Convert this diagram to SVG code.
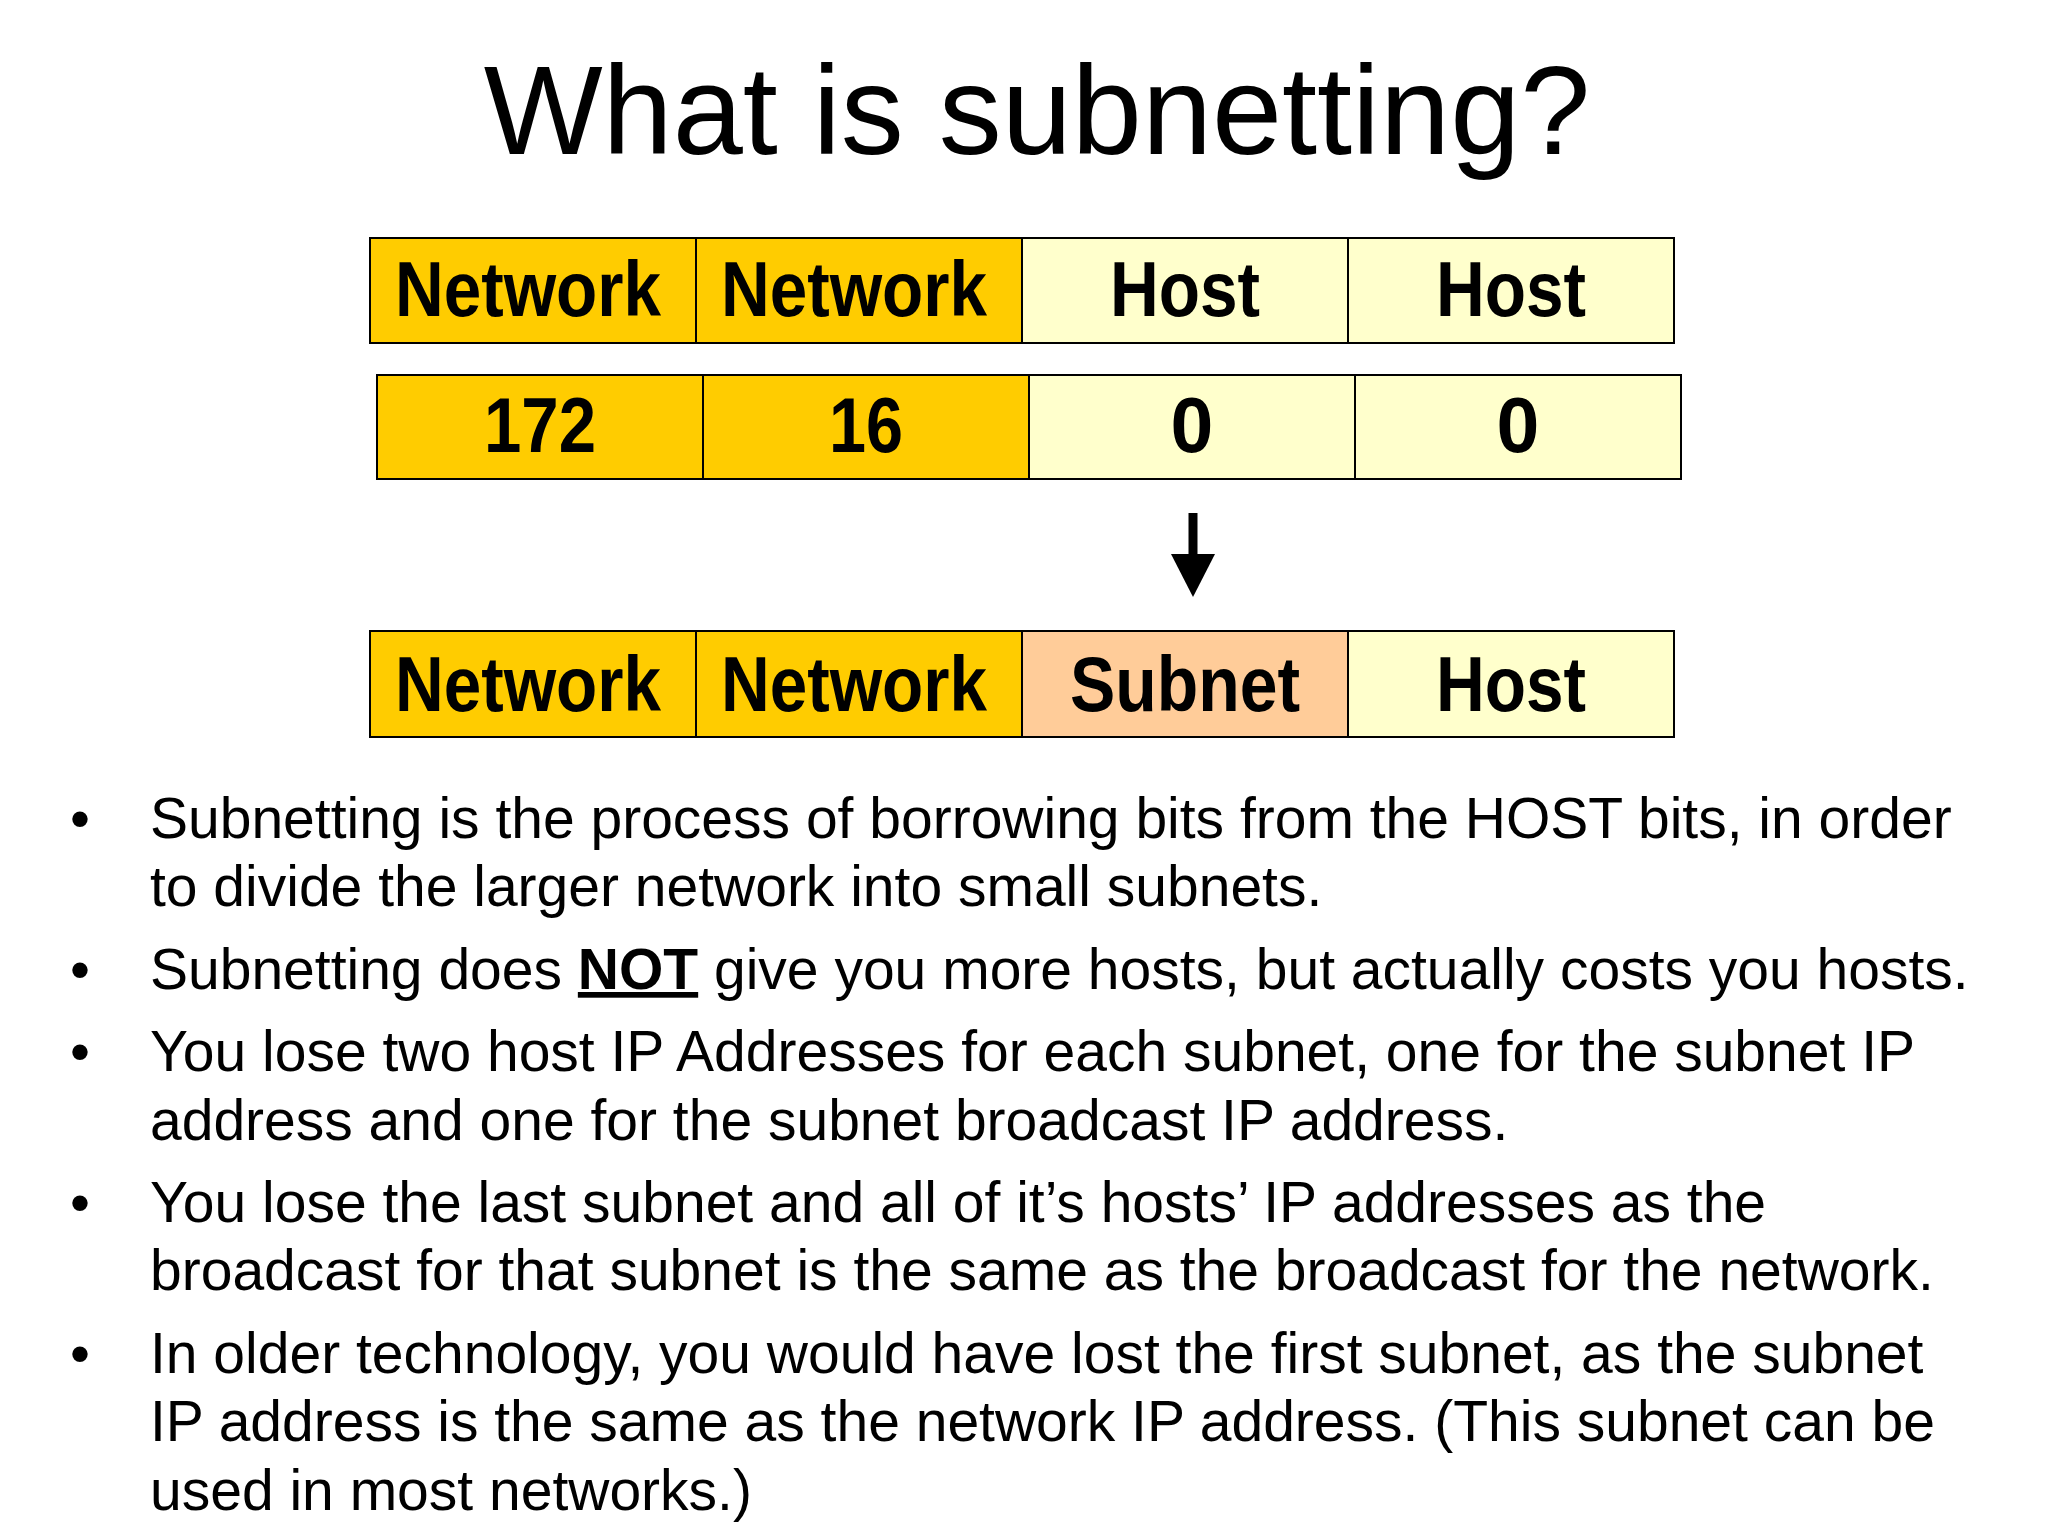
<svg xmlns="http://www.w3.org/2000/svg" width="2048" height="1536" viewBox="0 0 2048 1536">
<style>
.c{stroke:#000;stroke-width:2}
.g{fill:#FFCC00}.y{fill:#FFFFCC}.p{fill:#FFCC99}
.t{font-family:"Liberation Sans",Arial,sans-serif;font-weight:bold;font-size:77px;text-anchor:middle}
.b{font-family:"Liberation Sans",Arial,sans-serif;font-size:57px}
</style>
<rect width="2048" height="1536" fill="#fff"/>
<text x="1037" y="154" font-family="Liberation Sans,Arial,sans-serif" font-size="126" text-anchor="middle">What is subnetting?</text>
<g id="row1">
<rect class="c g" x="370" y="238" width="326" height="105"/>
<rect class="c g" x="696" y="238" width="326" height="105"/>
<rect class="c y" x="1022" y="238" width="326" height="105"/>
<rect class="c y" x="1348" y="238" width="326" height="105"/>
<text class="t" x="528" y="316" textLength="266" lengthAdjust="spacingAndGlyphs">Network</text>
<text class="t" x="854" y="316" textLength="266" lengthAdjust="spacingAndGlyphs">Network</text>
<text class="t" x="1185" y="316" textLength="150" lengthAdjust="spacingAndGlyphs">Host</text>
<text class="t" x="1511" y="316" textLength="150" lengthAdjust="spacingAndGlyphs">Host</text>
</g>
<g id="row2">
<rect class="c g" x="377" y="375" width="326" height="104"/>
<rect class="c g" x="703" y="375" width="326" height="104"/>
<rect class="c y" x="1029" y="375" width="326" height="104"/>
<rect class="c y" x="1355" y="375" width="326" height="104"/>
<text class="t" x="540" y="452" textLength="112" lengthAdjust="spacingAndGlyphs">172</text>
<text class="t" x="866" y="452" textLength="74" lengthAdjust="spacingAndGlyphs">16</text>
<text class="t" x="1192" y="452">0</text>
<text class="t" x="1518" y="452">0</text>
</g>
<g id="connectors">
<line x1="1193" y1="513" x2="1193" y2="560" stroke="#000" stroke-width="9"/>
<polygon points="1171,554 1215,554 1193,597" fill="#000"/>
</g>
<g id="row3">
<rect class="c g" x="370" y="631" width="326" height="106"/>
<rect class="c g" x="696" y="631" width="326" height="106"/>
<rect class="c p" x="1022" y="631" width="326" height="106"/>
<rect class="c y" x="1348" y="631" width="326" height="106"/>
<text class="t" x="528" y="711" textLength="266" lengthAdjust="spacingAndGlyphs">Network</text>
<text class="t" x="854" y="711" textLength="266" lengthAdjust="spacingAndGlyphs">Network</text>
<text class="t" x="1185" y="711" textLength="230" lengthAdjust="spacingAndGlyphs">Subnet</text>
<text class="t" x="1511" y="711" textLength="150" lengthAdjust="spacingAndGlyphs">Host</text>
</g>
<g id="bullets" class="b">
<text x="70" y="838">•</text>
<text x="150" y="838">Subnetting is the process of borrowing bits from the HOST bits, in order</text>
<text x="150" y="906">to divide the larger network into small subnets.</text>
<text x="70" y="989">•</text>
<text x="150" y="989">Subnetting does <tspan font-weight="bold" text-decoration="underline">NOT</tspan> give you more hosts, but actually costs you hosts.</text>
<text x="70" y="1071">•</text>
<text x="150" y="1071">You lose two host IP Addresses for each subnet, one for the subnet IP</text>
<text x="150" y="1140">address and one for the subnet broadcast IP address.</text>
<text x="70" y="1222">•</text>
<text x="150" y="1222">You lose the last subnet and all of it’s hosts’ IP addresses as the</text>
<text x="150" y="1290">broadcast for that subnet is the same as the broadcast for the network.</text>
<text x="70" y="1373">•</text>
<text x="150" y="1373">In older technology, you would have lost the first subnet, as the subnet</text>
<text x="150" y="1441">IP address is the same as the network IP address.  (This subnet can be</text>
<text x="150" y="1510">used in most networks.)</text>
</g>
</svg>
